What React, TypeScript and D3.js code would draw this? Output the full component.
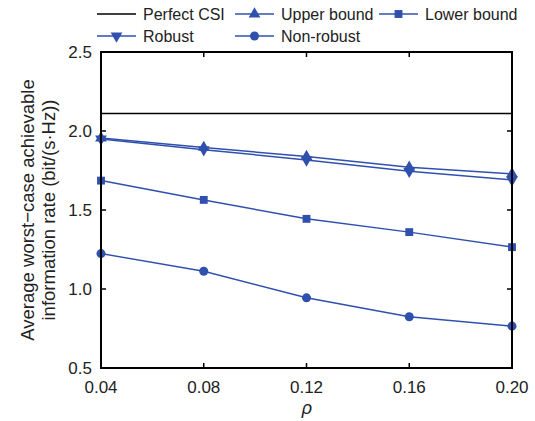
import * as d3 from "d3";
import React from "react";

const rho = [0.04, 0.08, 0.12, 0.16, 0.2];
const perfectCSI = 2.11;
const upperBound = [1.955, 1.896, 1.838, 1.77, 1.728];
const robust = [1.95, 1.882, 1.817, 1.745, 1.69];
const lowerBound = [1.686, 1.564, 1.444, 1.36, 1.265];
const nonRobust = [1.224, 1.112, 0.944, 0.824, 0.765];
const xTicks = ["0.04", "0.08", "0.12", "0.16", "0.20"];
const yTicks = [0.5, 1.0, 1.5, 2.0, 2.5];

const blue = "#3050ae";
const font = "'Liberation Sans', Arial, sans-serif";

type Marker = "up" | "down" | "square" | "circle";

function MarkerShape({ kind, x, y }: { kind: Marker; x: number; y: number }) {
  const s = kind === "circle" ? 64 : kind === "square" ? 62 : 60;
  const type =
    kind === "circle" ? d3.symbolCircle : kind === "square" ? d3.symbolSquare : d3.symbolTriangle;
  const path = d3.symbol().type(type).size(s)() || "";
  const rot = kind === "down" ? 180 : 0;
  return <path d={path} transform={`translate(${x},${y}) rotate(${rot})`} fill={blue} />;
}

export default function App() {
  const W = 535;
  const H = 421;
  const m = { left: 101, right: 512, top: 52, bottom: 368 };
  const x = d3.scaleLinear([0.04, 0.2], [m.left, m.right]);
  const y = d3.scaleLinear([0.5, 2.5], [m.bottom, m.top]);
  const line = d3
    .line<number>()
    .x((_, i) => x(rho[i]))
    .y((d) => y(d));

  const series: { name: string; data: number[]; marker: Marker }[] = [
    { name: "Upper bound", data: upperBound, marker: "up" },
    { name: "Robust", data: robust, marker: "down" },
    { name: "Lower bound", data: lowerBound, marker: "square" },
    { name: "Non-robust", data: nonRobust, marker: "circle" },
  ];

  const legend: { name: string; marker: Marker | null; lx: number; ly: number }[] = [
    { name: "Perfect CSI", marker: null, lx: 97, ly: 14 },
    { name: "Upper bound", marker: "up", lx: 235, ly: 14 },
    { name: "Lower bound", marker: "square", lx: 379, ly: 14 },
    { name: "Robust", marker: "down", lx: 97, ly: 36 },
    { name: "Non-robust", marker: "circle", lx: 235, ly: 36 },
  ];

  const tl = 5;

  return (
    <svg width={W} height={H} style={{ position: "absolute", left: 0, top: 0 }} fontFamily={font}>
      <rect width={W} height={H} fill="white" />
      {/* legend */}
      {legend.map((l) => (
        <g key={l.name}>
          <line
            x1={l.lx}
            x2={l.lx + 39}
            y1={l.ly}
            y2={l.ly}
            stroke={l.marker ? blue : "black"}
            strokeWidth={1.5}
          />
          {l.marker && <MarkerShape kind={l.marker} x={l.lx + 19.5} y={l.ly} />}
          <text x={l.lx + 46} y={l.ly + 6} fontSize={16} fill="#222">
            {l.name}
          </text>
        </g>
      ))}

      {/* perfect CSI */}
      <line
        x1={m.left}
        x2={m.right}
        y1={y(perfectCSI)}
        y2={y(perfectCSI)}
        stroke="black"
        strokeWidth={1.5}
      />

      {series.map((s) => (
        <g key={s.name}>
          <path d={line(s.data) || ""} fill="none" stroke={blue} strokeWidth={1.5} />
          {s.data.map((d, i) => (
            <MarkerShape key={i} kind={s.marker} x={x(rho[i])} y={y(d)} />
          ))}
        </g>
      ))}

      {/* frame */}
      <rect
        x={m.left}
        y={m.top}
        width={m.right - m.left}
        height={m.bottom - m.top}
        fill="none"
        stroke="black"
        strokeWidth={2}
      />
      {rho.map((r, i) => (
        <g key={r}>
          <line x1={x(r)} x2={x(r)} y1={m.bottom} y2={m.bottom - tl} stroke="black" strokeWidth={1.5} />
          <line x1={x(r)} x2={x(r)} y1={m.top} y2={m.top + tl} stroke="black" strokeWidth={1.5} />
          <text x={x(r)} y={m.bottom + 25} textAnchor="middle" fontSize={17} fill="#222">
            {xTicks[i]}
          </text>
        </g>
      ))}
      {yTicks.map((t) => (
        <g key={t}>
          <line x1={m.left} x2={m.left + tl} y1={y(t)} y2={y(t)} stroke="black" strokeWidth={1.5} />
          <line x1={m.right} x2={m.right - tl} y1={y(t)} y2={y(t)} stroke="black" strokeWidth={1.5} />
          <text x={m.left - 9} y={y(t) + 6} textAnchor="end" fontSize={17} fill="#222">
            {t.toFixed(1)}
          </text>
        </g>
      ))}

      <text x={307} y={414} textAnchor="middle" fontSize={18} fontStyle="italic" fill="#222">
        ρ
      </text>
      <g transform={`translate(34,210) rotate(-90)`}>
        <text textAnchor="middle" fontSize={18.5} fill="#222">
          Average worst−case achievable
        </text>
        <text y={21} textAnchor="middle" fontSize={18.5} fill="#222">
          information rate (bit/(s·Hz))
        </text>
      </g>
    </svg>
  );
}
